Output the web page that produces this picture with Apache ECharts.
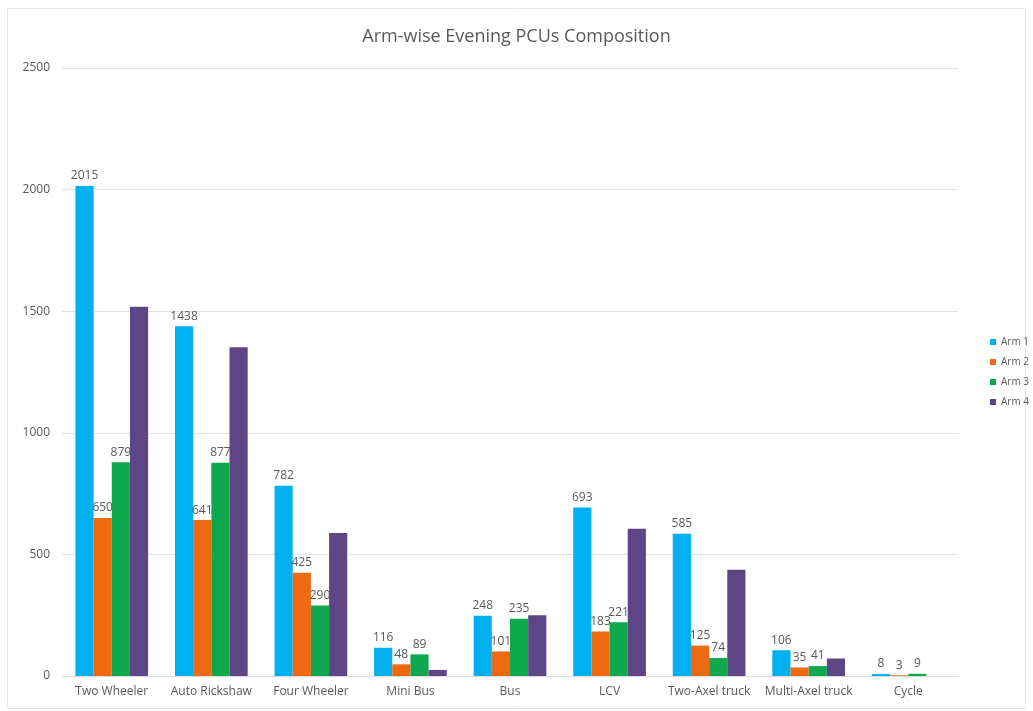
<!DOCTYPE html>
<html><head><meta charset="utf-8">
<script src="https://cdn.jsdelivr.net/npm/echarts@6/dist/echarts.min.js"></script>
<style>html,body{margin:0;padding:0;background:#fff}#c{width:1033px;height:711px}</style>
</head><body><div id="c"></div>
<script>
const categories = ['Two Wheeler','Auto Rickshaw','Four Wheeler','Mini Bus','Bus','LCV','Two-Axel truck','Multi-Axel truck','Cycle'];
const arm1 = [2015, 1438, 782, 116, 248, 693, 585, 106, 8];
const arm2 = [650, 641, 425, 48, 101, 183, 125, 35, 3];
const arm3 = [879, 877, 290, 89, 235, 221, 74, 41, 9];
const arm4 = [1518, 1352, 588, 25, 250, 605, 437, 72, 0];
const seriesNames = ['Arm 1','Arm 2','Arm 3','Arm 4'];
const colors = ['#00B0F0','#EE6A10','#10A84E','#5E4585'];
const yTicks = [0, 500, 1000, 1500, 2000, 2500];

const chart = echarts.init(document.getElementById('c'));
const font = 'Open Sans';
function mk(name, data, color, showLabel) {
  return {
    name, type: 'bar', data, barGap: '0%', barCategoryGap: '27%',
    itemStyle: { color },
    label: { show: showLabel, position: 'top', distance: 4, color: '#595959', fontSize: 12, fontFamily: font },
    emphasis: { disabled: true }, animation: false
  };
}
chart.setOption({
  animation: false,
  title: { text: 'Arm-wise Evening PCUs Composition', left: 'center', top: 23,
    textStyle: { color: '#595959', fontSize: 18, fontWeight: 'normal', fontFamily: font } },
  legend: { orient: 'vertical', left: 990, top: 337, padding: 0, itemWidth: 6, itemHeight: 6, itemGap: 10,
    icon: 'rect', textStyle: { color: '#595959', fontSize: 10, fontFamily: font, width: 40, overflow: 'none' } },
  grid: { left: 62, right: 75, top: 68, bottom: 35 },
  xAxis: { type: 'category', data: categories,
    axisLine: { lineStyle: { color: '#d9d9d9' } }, axisTick: { show: false },
    axisLabel: { color: '#595959', fontSize: 12, fontFamily: font, interval: 0, margin: 10 } },
  yAxis: { type: 'value', min: yTicks[0], max: yTicks[yTicks.length-1], interval: 500,
    axisLine: { show: false }, axisTick: { show: false },
    splitLine: { lineStyle: { color: '#e3e3e3', width: 1 } },
    axisLabel: { color: '#595959', fontSize: 12, fontFamily: font, margin: 12, formatter: v => String(v) } },
  graphic: [{ type: 'rect', shape: { x: 7.5, y: 8.5, width: 1018, height: 700 },
    style: { fill: 'none', stroke: '#e6e6e6', lineWidth: 1 }, silent: true, z: -1 }],
  series: [
    mk(seriesNames[0], arm1, colors[0], true),
    mk(seriesNames[1], arm2, colors[1], true),
    mk(seriesNames[2], arm3, colors[2], true),
    mk(seriesNames[3], arm4, colors[3], false)
  ]
});
</script></body></html>
